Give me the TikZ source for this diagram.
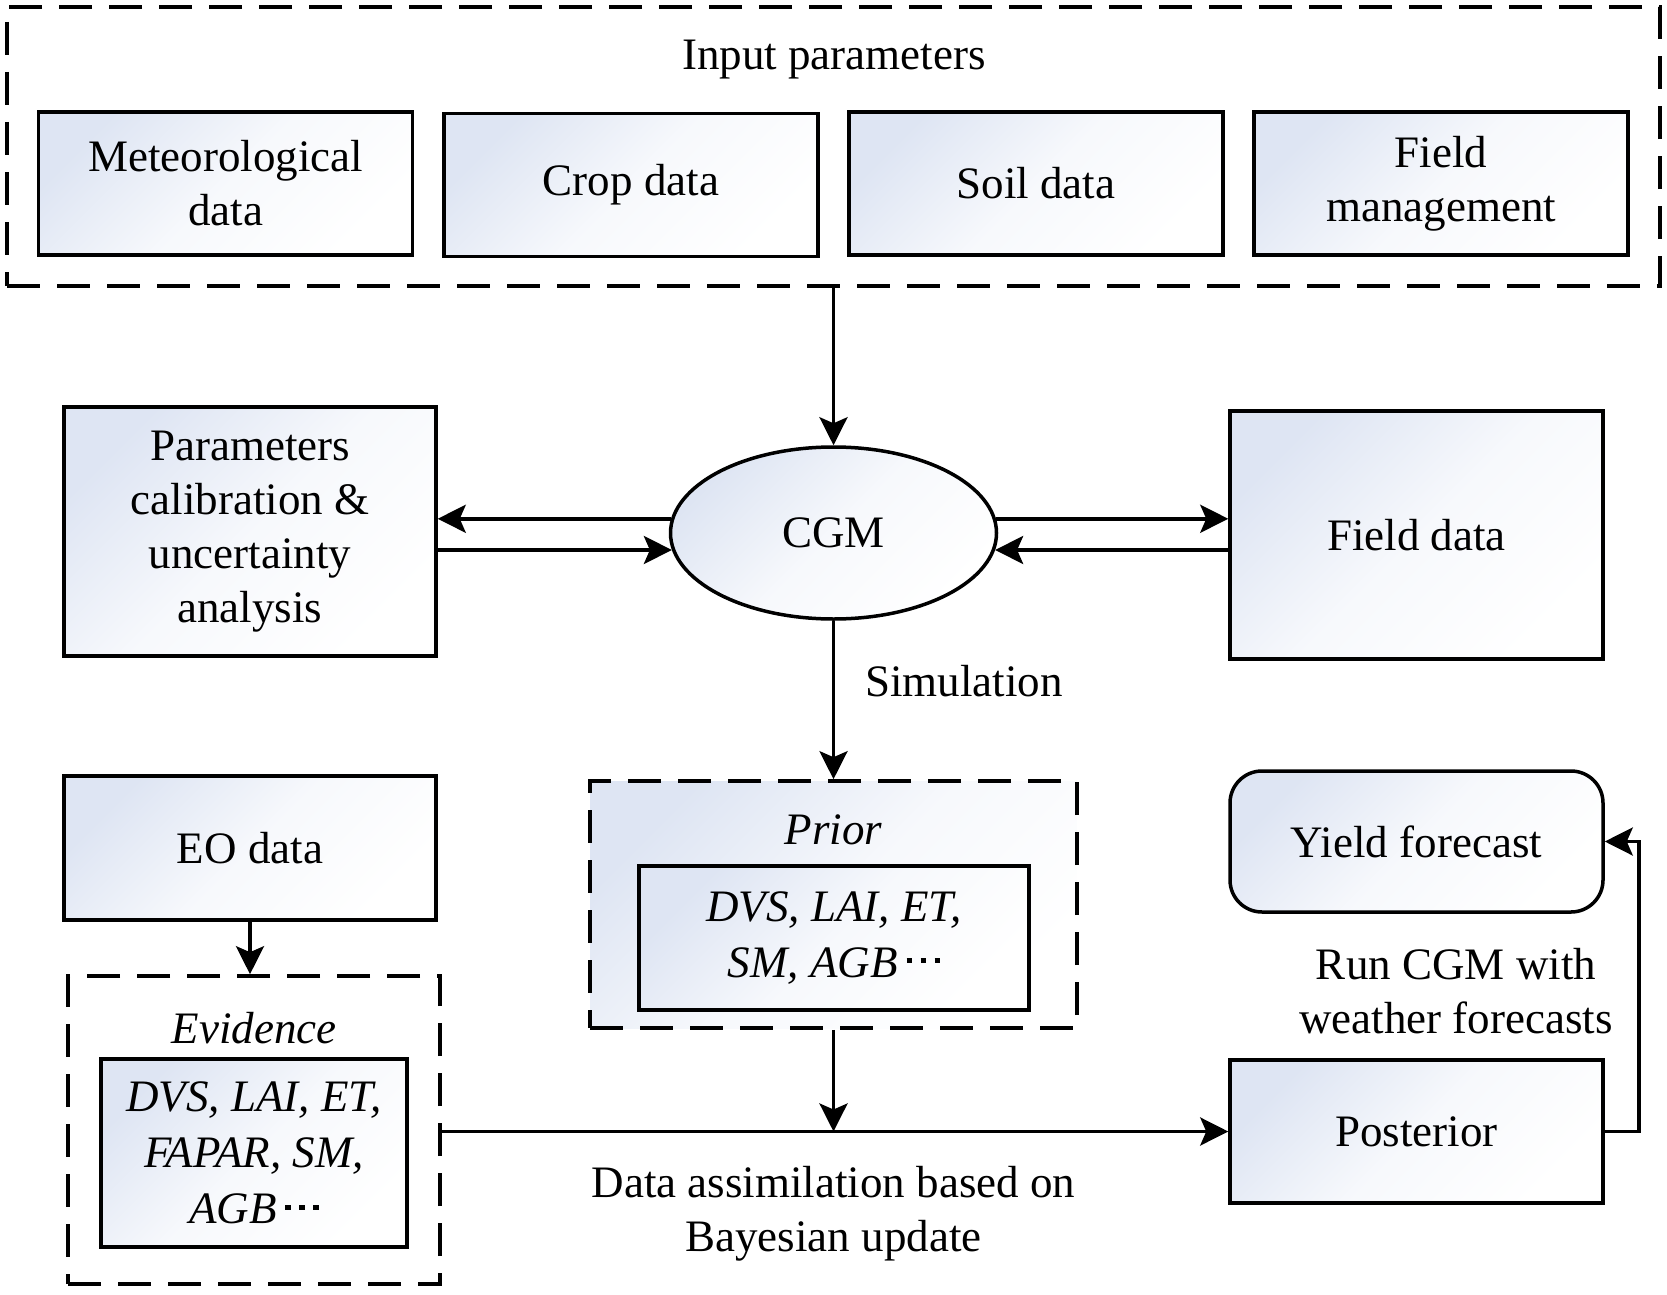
\documentclass[tikz,border=0pt]{standalone}
\usepackage{fontspec}
\setmainfont{Liberation Serif}
\usetikzlibrary{shapes.geometric,arrows.meta,calc}
\definecolor{gcol}{RGB}{222,229,243}
\newcommand{\sqdots}{\hspace{9pt}\rule[14pt]{5.5pt}{5pt}\hspace{8.5pt}\rule[14pt]{5.5pt}{5pt}\hspace{8.5pt}\rule[14pt]{5.5pt}{5pt}}
\begin{document}
\begin{tikzpicture}[x=1pt,y=-1pt,
  every node/.style={font=\fontsize{45}{54}\selectfont, inner sep=0pt},
  shadebox/.style={top color=gcol, bottom color=white, middle color=gcol!25!white, shading angle=45},
  solidbox/.style={shadebox, draw, line width=3.5pt, rectangle, align=center},
  dashbox/.style={draw, line width=3.6pt, dash pattern=on 33pt off 17pt, rectangle},
  arr/.style={line width=3.6pt, -{Stealth[length=28pt,width=28pt,inset=6pt]}},
  itlist/.style={font=\fontsize{45}{56}\selectfont\itshape},
]
\useasboundingbox (0,0) rectangle (1667,1295);

% input parameters
\node[dashbox, minimum width=1653pt, minimum height=279pt] (inputs) at (833.5,146.5) {};
\node[anchor=base] (inlbl) at (834,70) {Input parameters};
\node[solidbox, minimum width=374pt, minimum height=143pt] (met) at (225.5,183.5) {Meteorological\\data};
\node[solidbox, minimum width=374pt, minimum height=143pt] (crop) at (631,185) {Crop data};
\node[solidbox, minimum width=374pt, minimum height=143pt] (soil) at (1036,183.5) {Soil data};
\node[solidbox, minimum width=374pt, minimum height=143pt] (mgmt) at (1441,183.5) {Field\\management};

% middle row
\node[ellipse, draw, line width=3.5pt, shadebox, minimum width=326pt, minimum height=172pt] (cgm) at (833.5,533) {CGM};
\node[solidbox, minimum width=372pt, minimum height=249pt] (calib) at (250,531.5) {Parameters\\calibration \&\\uncertainty\\analysis};
\node[solidbox, minimum width=373pt, minimum height=248pt] (field) at (1416.5,535) {Field data};

\draw[arr] (inputs.south -| cgm.north) -- (cgm.north);
\draw[arr] (cgm.175) -- (cgm.175 -| calib.east);
\draw[arr] (calib.east |- cgm.186) -- (cgm.186);
\draw[arr] (cgm.5) -- (cgm.5 -| field.west);
\draw[arr] (field.west |- cgm.-6) -- (cgm.-6);

% prior
\node[dashbox, shadebox, minimum width=487pt, minimum height=247pt] (prior) at (833.5,904.5) {};
\node (priorlbl) at (833.5,830) {\itshape Prior};
\node[solidbox, itlist, minimum width=390pt, minimum height=144pt] (priorin) at (834,938) {DVS, LAI, ET,\\SM, AGB\sqdots};
\draw[arr] (cgm.south) -- (cgm.south |- prior.north);
\node (simlbl) at (964,681) {Simulation};

% evidence
\node[solidbox, minimum width=372pt, minimum height=144pt] (eo) at (250,848) {EO data};
\node[dashbox, minimum width=372pt, minimum height=308pt] (evid) at (254,1130) {};
\node (evidlbl) at (254,1028) {\itshape Evidence};
\node[solidbox, itlist, minimum width=306pt, minimum height=188pt] (evidin) at (254,1153) {DVS, LAI, ET,\\FAPAR, SM,\\AGB\sqdots};
\draw[arr] (eo.south) -- (eo.south |- evid.north);

% posterior and yield
\node[solidbox, minimum width=373pt, minimum height=143pt] (post) at (1416.5,1131.5) {Posterior};
\node[solidbox, rounded corners=32pt, minimum width=373pt, minimum height=141pt] (yield) at (1416.5,841.5) {Yield forecast};
\draw[arr] (evid.east |- post.west) -- (post.west);
\coordinate (junc) at (prior.south |- post.west);
\draw[arr] (prior.south) -- (junc);
\node[align=center] (dalbl) at (833.5,1214) {Data assimilation based on\\Bayesian update};
\draw[arr] (post.east) -- ++(34,0) |- (yield.east);
\node[align=center] (runlbl) at (1456,991) {Run CGM with\\weather forecasts};
\end{tikzpicture}
\end{document}
